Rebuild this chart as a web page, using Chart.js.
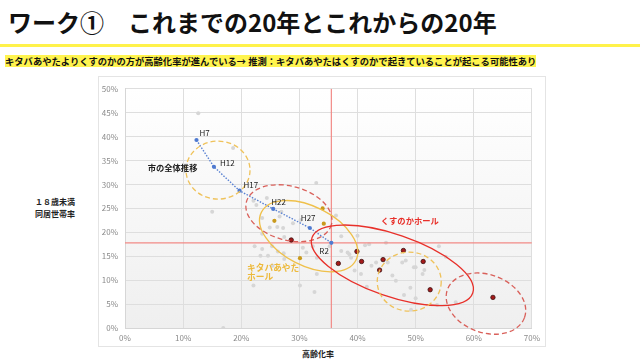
<!DOCTYPE html>
<html>
<head>
<meta charset="utf-8">
<script src="https://cdn.jsdelivr.net/npm/chart.js@4/dist/chart.umd.min.js"></script>
<style>
body{margin:0;width:640px;height:364px;background:#fff;font-family:"Noto Sans CJK JP",sans-serif;position:relative;overflow:hidden}
#title{position:absolute;left:8px;top:10px;font-size:24px;font-weight:bold;line-height:24px;white-space:nowrap;color:#111}
#bar{position:absolute;left:0;top:44px;width:640px;height:3px;background:#fff24a}
#note{position:absolute;left:5px;top:55px;font-size:9.3px;line-height:12px;font-weight:bold;background:#fff44f;white-space:nowrap;color:#111}
#frame{position:absolute;left:98px;top:76px;width:448px;height:271px;border:1px solid #e4e4e4;box-sizing:border-box}
#wrap{position:absolute;left:99px;top:77px;width:446px;height:269px}
#ytitle{position:absolute;left:25px;top:196px;width:60px;text-align:center;font-size:8px;font-weight:bold;line-height:11.5px;color:#222}
#xtitle{position:absolute;left:278px;top:349px;width:80px;text-align:center;font-size:8px;font-weight:bold;line-height:10px;color:#222}
</style>
</head>
<body>
<div id="title">ワーク①　これまでの20年とこれからの20年</div>
<div id="bar"></div>
<div id="note">キタバあやたよりくすのかの方が高齢化率が進んでいる→ 推測：キタバあやたはくすのかで起きていることが起こる可能性あり</div>
<div id="frame"></div>
<div id="wrap"><canvas id="myScatter" width="446" height="269"></canvas></div>
<div id="ytitle">１８歳未満<br>同居世帯率</div>
<div id="xtitle">高齢化率</div>
<script>
/* DATA */
var trendLabels = ['H7', 'H12', 'H17', 'H22', 'H27', 'R2'];
var trendX = [12.3, 15.3, 19.7, 25.5, 31.8, 35.5];
var trendY = [39.3, 33.7, 28.7, 24.9, 20.9, 17.8];

var kusunokaX = [28.6, 36.7, 39.9, 40.7, 44.4, 43.8, 47.9, 51.3, 52.5, 63.3];
var kusunokaY = [18.4, 13.5, 16.0, 13.9, 14.3, 12.1, 16.2, 13.9, 8.0, 6.4];

var kitabaX = [25.7, 34.0, 34.2, 30.1];
var kitabaY = [22.4, 25.0, 21.8, 14.6];

var otherX = [12.6, 18.6, 15.0, 16.9, 22.6, 24.4, 22.1, 23.6, 24.9, 26.2, 23.6, 22.3, 23.3, 24.6, 25.3, 26.3, 27.4, 22.1, 26.6, 27.3,
	32.9, 36.3, 26.9, 28.9, 30.2, 27.2, 23.6, 30.6, 31.2, 32.3, 33.0, 35.2, 27.4, 25.4, 33.0, 30.1, 37.2, 40.0, 41.3, 42.0,
	44.9, 38.6, 37.2, 32.6, 39.5, 41.6, 46.0, 46.6, 49.2, 55.2, 56.9, 49.7, 51.5, 48.3, 43.2, 54.0, 38.3, 38.9, 42.4, 45.2,
	47.7, 50.0, 51.2, 40.6, 48.0, 50.0, 53.7, 49.1];
var otherY = [44.9, 37.6, 24.3, 0.0, 25.7, 27.2, 26.6, 23.0, 21.0, 21.1, 19.7, 17.1, 15.1, 15.1, 17.1, 16.0, 19.0, 8.9, 23.3, 15.6,
	30.3, 23.5, 24.3, 21.9, 22.6, 20.9, 16.5, 16.8, 15.8, 17.1, 14.7, 17.1, 14.4, 13.0, 11.3, 8.9, 19.2, 19.3, 17.3, 17.5,
	17.8, 15.4, 16.1, 7.5, 12.0, 8.6, 11.0, 9.9, 3.8, 14.9, 5.4, 12.7, 12.1, 14.1, 13.7, 17.1, 15.8, 14.7, 13.0, 13.7,
	13.7, 12.7, 11.3, 11.3, 6.9, 6.2, 4.8, 8.4];

var cityAvgX = 35.5;
var cityAvgY = 17.8;

var xTickMax = 70, xTickStep = 10;
var yTickMax = 50, yTickStep = 5;

function toPoints(xs, ys) {
	var pts = [];
	for (var i = 0; i < xs.length; i++) pts.push({x: xs[i], y: ys[i]});
	return pts;
}

/* annotation shapes (centre in data units, radii in px) */
var ellipses = [
	{cx: 16.0, cy: 33.0, rx: 32, ry: 29, rot: 0, color: '#efc25a', dash: [5, 3]},
	{cx: 28.2, cy: 24.0, rx: 44, ry: 27, rot: 15, color: '#d9605a', dash: [5, 3]},
	{cx: 31.6, cy: 19.2, rx: 53, ry: 29.5, rot: 27, color: '#efc04a', dash: []},
	{cx: 46.0, cy: 13.1, rx: 85, ry: 31, rot: 19, color: '#e8302a', dash: []},
	{cx: 48.9, cy: 9.7, rx: 32, ry: 29.5, rot: 0, color: '#efc25a', dash: [5, 3]},
	{cx: 62.1, cy: 5.1, rx: 41, ry: 29, rot: 20, color: '#d9605a', dash: [5, 3]}
];
var trendOffsets = [[3, -7], [6, -4], [4, -6], [-2, -7], [-9, -10], [-12, 8]];
var notes = [
	{x: 3.9, y: 33.5, text: '市の全体推移', color: '#222', size: 8.3},
	{x: 44.0, y: 22.3, text: 'くすのかホール', color: '#e8302a', size: 8.3},
	{x: 21.0, y: 12.7, text: 'キタバあやた', color: '#edb93a', size: 8.7},
	{x: 21.0, y: 10.8, text: 'ホール', color: '#edb93a', size: 8.7}
];

var plotBg = {
	id: 'plotBg',
	beforeDraw: function(chart) {
		var a = chart.chartArea, ctx = chart.ctx;
		var g = ctx.createLinearGradient(0, a.top, 0, a.bottom);
		g.addColorStop(0, '#ffffff');
		g.addColorStop(1, '#efefef');
		ctx.save();
		ctx.fillStyle = g;
		ctx.fillRect(a.left, a.top, a.right - a.left, a.bottom - a.top);
		ctx.restore();
	}
};

var marks = {
	id: 'marks',
	afterDatasetsDraw: function(chart) {
		var ctx = chart.ctx, sx = chart.scales.x, sy = chart.scales.y;
		ctx.save();
		ellipses.forEach(function(e) {
			ctx.beginPath();
			ctx.setLineDash(e.dash);
			ctx.strokeStyle = e.color;
			ctx.lineWidth = 1.3;
			ctx.ellipse(sx.getPixelForValue(e.cx), sy.getPixelForValue(e.cy), e.rx, e.ry, e.rot * Math.PI / 180, 0, Math.PI * 2);
			ctx.stroke();
		});
		ctx.setLineDash([]);
		ctx.textBaseline = 'middle';
		ctx.textAlign = 'left';
		ctx.fillStyle = '#222';
		ctx.font = '8px "Noto Sans CJK JP", sans-serif';
		for (var i = 0; i < trendLabels.length; i++) {
			ctx.fillText(trendLabels[i], sx.getPixelForValue(trendX[i]) + trendOffsets[i][0], sy.getPixelForValue(trendY[i]) + trendOffsets[i][1]);
		}
		notes.forEach(function(n) {
			ctx.fillStyle = n.color;
			ctx.font = 'bold ' + n.size + 'px "Noto Sans CJK JP", sans-serif';
			ctx.fillText(n.text, sx.getPixelForValue(n.x), sy.getPixelForValue(n.y));
		});
		ctx.restore();
	}
};

var ctxScatter = document.getElementById('myScatter').getContext('2d');
var myScatter = new Chart(ctxScatter, {
	type: 'scatter',
	data: {
		datasets: [{
			data: toPoints(trendX, trendY),
			showLine: true,
			borderColor: '#5a82d2',
			borderWidth: 1.4,
			borderDash: [1.5, 1.5],
			pointRadius: 2.1,
			pointBorderWidth: 0,
			pointBackgroundColor: '#4f7ad0'
		}, {
			data: toPoints(kusunokaX, kusunokaY),
			pointRadius: 2.2,
			pointBackgroundColor: '#a51a1a',
			pointBorderColor: '#3a1212',
			pointBorderWidth: 0.8
		}, {
			data: toPoints(kitabaX, kitabaY),
			pointRadius: 2.1,
			pointBackgroundColor: '#c99a1c',
			pointBorderWidth: 0
		}, {
			data: [{x: cityAvgX, y: 0}, {x: cityAvgX, y: yTickMax}],
			showLine: true,
			borderColor: '#f28a86',
			borderWidth: 1.2,
			pointRadius: 0
		}, {
			data: [{x: 0, y: cityAvgY}, {x: xTickMax, y: cityAvgY}],
			showLine: true,
			borderColor: '#f28a86',
			borderWidth: 1.2,
			pointRadius: 0
		}, {
			data: toPoints(otherX, otherY),
			pointRadius: 2,
			pointBackgroundColor: '#d6d6d6',
			pointBorderWidth: 0
		}]
	},
	options: {
		responsive: false,
		animation: false,
		layout: {padding: {top: 8, right: 12, left: 0, bottom: 0}},
		plugins: {legend: {display: false}, tooltip: {enabled: false}},
		scales: {
			x: {
				min: 0, max: xTickMax,
				afterFit: function(s) { s.height = 18; },
				grid: {color: '#dedede', drawTicks: false},
				border: {color: '#d6d6d6'},
				ticks: {stepSize: xTickStep, padding: 5, color: '#8a8a8a', font: {size: 8, family: '"Noto Sans CJK JP"'},
					callback: function(v) { return v + '%'; }}
			},
			y: {
				min: 0, max: yTickMax,
				afterFit: function(s) { s.width = 26; },
				grid: {color: '#dedede', drawTicks: false},
				border: {color: '#d6d6d6'},
				ticks: {stepSize: yTickStep, padding: 7, color: '#8a8a8a', font: {size: 8, family: '"Noto Sans CJK JP"'},
					callback: function(v) { return v + '%'; }}
			}
		}
	},
	plugins: [plotBg, marks]
});
</script>
</body>
</html>
